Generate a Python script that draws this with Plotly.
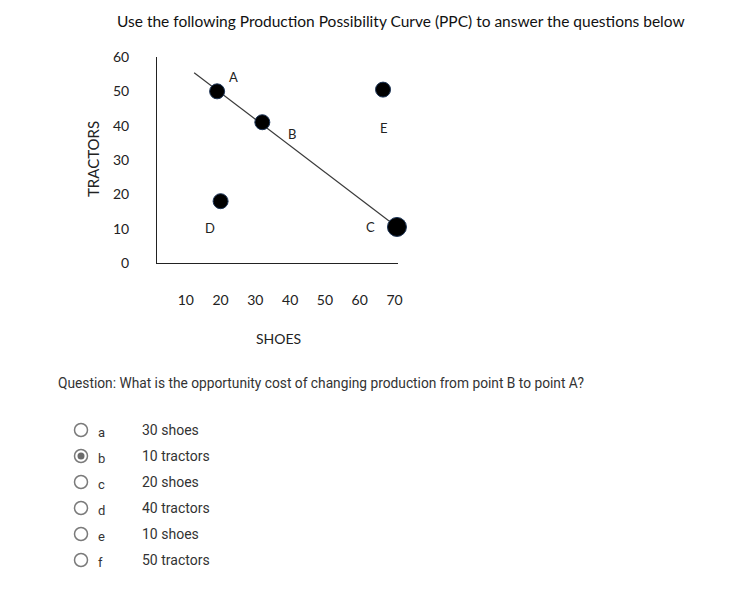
import plotly.graph_objects as go

# ---- data ----
title_text = "Use the following Production Possibility Curve (PPC) to answer the questions below"
point_names = ["A", "B", "C", "D", "E"]
shoes = [19, 32, 70.7, 20, 66.7]
tractors = [50, 41, 10.5, 18, 50.5]
point_sizes = [15, 15, 19, 15, 15]
ppc_shoes = [12.4, 70.7]
ppc_tractors = [55.4, 10.5]
x_ticks = [10, 20, 30, 40, 50, 60, 70]
y_ticks = [0, 10, 20, 30, 40, 50, 60]
question = "Question: What is the opportunity cost of changing production from point B to point A?"
option_letters = ["a", "b", "c", "d", "e", "f"]
option_texts = ["30 shoes", "10 tractors", "20 shoes", "40 tractors", "10 shoes", "50 tractors"]
selected = "b"

# label offsets (px) relative to each point
label_dx = [16, 30, -26, -11, 1]
label_dy = [14, -12, 0, -27, -38]

W, H = 730, 590
CHART_FONT = "Lato, Open Sans, sans-serif"
UI_FONT = "Roboto, sans-serif"

fig = go.Figure()

fig.add_trace(go.Scatter(
    x=ppc_shoes, y=ppc_tractors, mode="lines",
    line=dict(color="#3a3a3a", width=1.2), hoverinfo="skip", showlegend=False,
))
fig.add_trace(go.Scatter(
    x=shoes, y=tractors, mode="markers",
    marker=dict(color="black", size=point_sizes, opacity=1, line=dict(color="#1d3557", width=1)),
    cliponaxis=False, showlegend=False,
))

for name, xv, yv, dx, dy in zip(point_names, shoes, tractors, label_dx, label_dy):
    fig.add_annotation(x=xv, y=yv, xref="x", yref="y", text=name, showarrow=False,
                       xanchor="center", yanchor="middle",
                       xshift=dx, yshift=dy, font=dict(family=CHART_FONT, size=13, color="#222"))

# options (radio list)
idx = list(range(len(option_letters)))
fig.add_trace(go.Scatter(
    x=[0] * len(idx), y=idx, xaxis="x2", yaxis="y2", mode="markers",
    marker=dict(symbol="circle", size=13, color="white", opacity=1,
                line=dict(color="#7a7a7a", width=1.5)),
    hoverinfo="skip", showlegend=False, cliponaxis=False,
))
sel_i = option_letters.index(selected)
fig.add_trace(go.Scatter(
    x=[0], y=[sel_i], xaxis="x2", yaxis="y2", mode="markers",
    marker=dict(symbol="circle", size=7, color="#6b6b6b", opacity=1),
    hoverinfo="skip", showlegend=False, cliponaxis=False,
))
for i, (l, t) in enumerate(zip(option_letters, option_texts)):
    fig.add_annotation(x=0, y=i, xref="x2", yref="y2", text=l, showarrow=False,
                       xanchor="left", yanchor="middle", xshift=15, yshift=-2,
                       font=dict(family=UI_FONT, size=13, color="#333"))
    fig.add_annotation(x=0, y=i, xref="x2", yref="y2", text=t, showarrow=False,
                       xanchor="left", yanchor="middle", xshift=59,
                       font=dict(family=UI_FONT, size=14, color="#333"))

# texts
fig.add_annotation(x=401 / W, y=1 - 21 / H, xref="paper", yref="paper", text=title_text,
                   xanchor="center", yanchor="middle",
                   showarrow=False, font=dict(family=CHART_FONT, size=15.5, color="#111"))
fig.add_annotation(x=93 / W, y=1 - 159 / H, xref="paper", yref="paper", text="TRACTORS",
                   xanchor="center", yanchor="middle",
                   textangle=-90, showarrow=False, font=dict(family=CHART_FONT, size=15, color="#222"))
fig.add_annotation(x=278 / W, y=1 - 338 / H, xref="paper", yref="paper", text="SHOES",
                   xanchor="center", yanchor="middle",
                   showarrow=False, font=dict(family=CHART_FONT, size=14, color="#222"))
fig.add_annotation(x=56 / W, y=1 - 383 / H, xref="paper", yref="paper", text=question,
                   xanchor="left", yanchor="middle",
                   showarrow=False, font=dict(family=UI_FONT, size=13.75, color="#333"))

fig.update_layout(
    width=W, height=H, margin=dict(l=0, r=0, t=0, b=0, autoexpand=False),
    paper_bgcolor="white", plot_bgcolor="white",
    xaxis=dict(domain=[157 / W, 398 / W], range=[1.72, 71.0], tickvals=x_ticks,
               showline=True, linecolor="#222", linewidth=1, showgrid=False, zeroline=False,
               ticks="", ticklabelstandoff=24, automargin=False,
               tickfont=dict(family=CHART_FONT, size=14, color="#222"), fixedrange=True),
    yaxis=dict(domain=[1 - 263 / H, 1 - 57 / H], range=[0, 60], tickvals=y_ticks,
               showline=True, linecolor="#222", linewidth=1, showgrid=False, zeroline=False,
               ticks="", ticklabelstandoff=24, automargin=False,
               tickfont=dict(family=CHART_FONT, size=14, color="#222"), fixedrange=True),
    xaxis2=dict(domain=[74 / W, 88 / W], range=[-1, 1], visible=False, anchor="y2"),
    yaxis2=dict(domain=[1 - 573 / H, 1 - 417 / H], range=[5.5, -0.5], visible=False, anchor="x2"),
)

fig.write_html(
    "out.html",
    post_script="document.body.style.margin='0';document.body.style.overflow='hidden';",
)
